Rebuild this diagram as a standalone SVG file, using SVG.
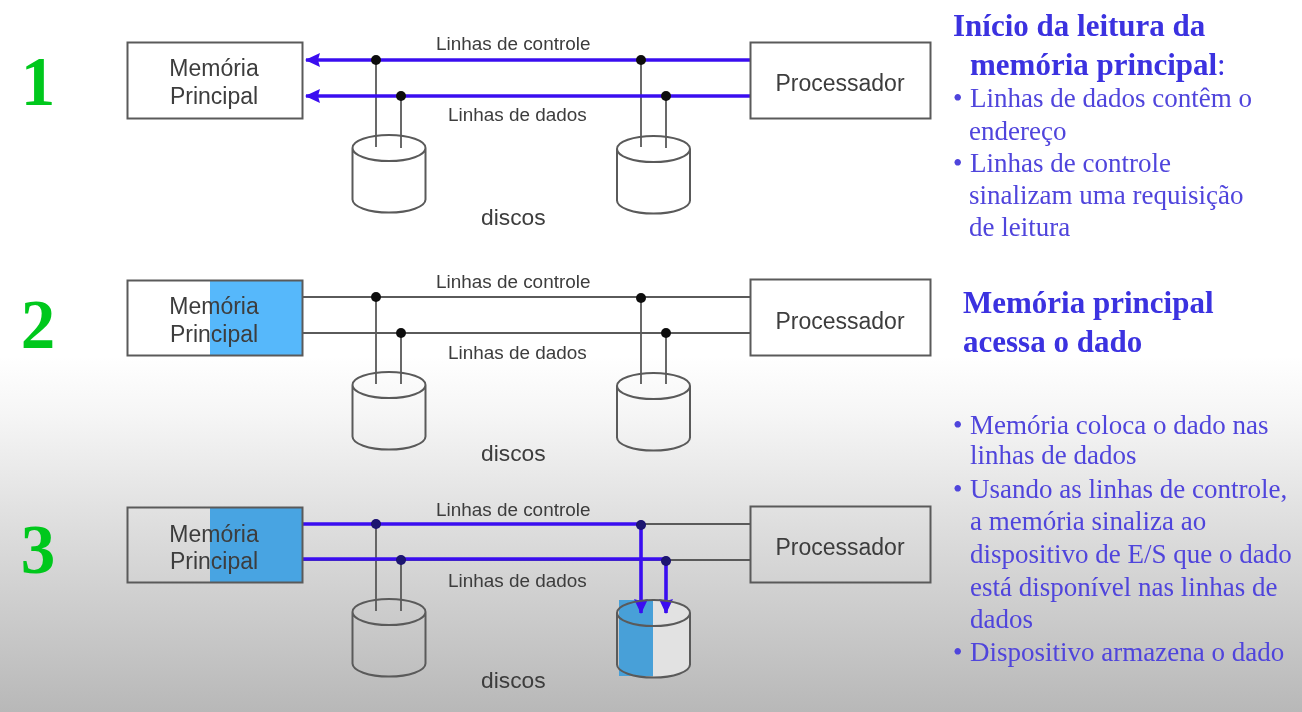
<svg xmlns="http://www.w3.org/2000/svg" width="1302" height="712" viewBox="0 0 1302 712">
<style>
.box{fill:none;stroke:#5a5a5a;stroke-width:2}
.lbl{font-family:"Liberation Sans",Arial,sans-serif;fill:#3c3c3c;filter:url(#b)}
.l{font-size:18.900px}.m{font-size:23px;text-anchor:middle}.d{font-size:22.800px}
.num{font-family:"Liberation Serif",serif;font-weight:bold;font-size:69px;fill:#00c81e;text-anchor:middle;filter:url(#b)}
.t{font-family:"Liberation Serif",serif;fill:#5044dc;font-size:27px;filter:url(#b2)}
.h{font-family:"Liberation Serif",serif;fill:#3a30e0;font-size:31px;font-weight:bold;filter:url(#b)}
.k{fill:none;stroke:#5a5a5a;stroke-width:1.800}
.bl{fill:none;stroke:#3a10f0;stroke-width:3.600}
.cyl{fill:none;stroke:#5a5a5a;stroke-width:2}
.dot{fill:#111}
</style>
<defs>
<filter id="b" x="-5%" y="-5%" width="110%" height="110%"><feGaussianBlur stdDeviation="0.5"/></filter>
<filter id="b2" x="-5%" y="-5%" width="110%" height="110%"><feGaussianBlur stdDeviation="0.7"/></filter>
<filter id="b3" x="-2%" y="-2%" width="104%" height="104%"><feGaussianBlur stdDeviation="0.4"/></filter>
<linearGradient id="bg" x1="0" y1="0" x2="0" y2="1"><stop offset="0.5" stop-color="#fff"/><stop offset="0.58" stop-color="#f6f6f6"/><stop offset="0.75" stop-color="#dcdcdc"/><stop offset="1" stop-color="#b8b8b8"/></linearGradient>
<marker id="a" markerUnits="userSpaceOnUse" markerWidth="16" markerHeight="16" refX="14" refY="8" orient="auto"><path d="M0 1L15 8L0 15L2 8Z" fill="#3a10f0"/></marker>
<path id="c" d="M-36.500 0A36.500 13 0 0 1 36.500 0A36.500 13 0 0 1 -36.500 0ZM-36.500 0V51.500A36.500 13 0 0 0 36.500 51.500V0"/>
</defs>
<rect width="1302" height="712" fill="url(#bg)"/>
<rect x="210" y="281" width="92" height="74" fill="#56b8fb"/>
<rect x="210" y="508" width="92" height="74" fill="#48a4e2"/>
<path d="M653 600A36.500 13 0 0 1 690 613V664.500A36.500 13 0 0 1 653 677.500Z" fill="#e2e2e2"/>
<rect x="619" y="600" width="34" height="76" fill="#48a0d8"/>
<g id="connectors" filter="url(#b3)">
<path class="k" d="M303 297H750M303 333H750M376 297V384M401 333V384M641 297V384M666 333V384"/>
<path class="k" d="M376 60V147M401 96V148M641 60V147M666 96V148"/>
<path class="k" d="M303 524H750M303 560H750M376 524V611M401 560V611"/>
<path class="bl" d="M750 60H306" marker-end="url(#a)"/>
<path class="bl" d="M750 96H306" marker-end="url(#a)"/>
<path class="bl" d="M303 524H641V613" marker-end="url(#a)"/>
<path class="bl" d="M303 559H666V613" marker-end="url(#a)"/>
<g class="dot"><circle cx="376" cy="60" r="5"/><circle cx="641" cy="60" r="5"/><circle cx="401" cy="96" r="5"/><circle cx="666" cy="96" r="5"/><circle cx="376" cy="297" r="5"/><circle cx="641" cy="298" r="5"/><circle cx="401" cy="333" r="5"/><circle cx="666" cy="333" r="5"/></g>
<g fill="#1a1270"><circle cx="376" cy="524" r="5"/><circle cx="641" cy="525" r="5"/><circle cx="401" cy="560" r="5"/><circle cx="666" cy="561" r="5"/></g>
</g>
<g id="n1"><text class="num" x="38" y="105">1</text></g>
<g id="mem1"><rect class="box" x="127.500" y="42.500" width="175" height="76"/><text class="lbl m" x="214" y="76">Memória</text><text class="lbl m" x="214" y="104">Principal</text></g>
<g id="proc1"><rect class="box" x="750.500" y="42.500" width="180" height="76"/><text class="lbl m" x="840" y="91">Processador</text></g>
<g id="disk1a"><use href="#c" class="cyl" x="389" y="148"/></g>
<g id="disk1b"><use href="#c" class="cyl" x="653.500" y="149"/></g>
<g id="labels1"><text class="lbl l" x="436" y="50">Linhas de controle</text><text class="lbl l" x="448" y="121">Linhas de dados</text><text class="lbl d" x="481" y="225">discos</text></g>
<g id="n2"><text class="num" x="38" y="348">2</text></g>
<g id="mem2"><rect class="box" x="127.500" y="280.500" width="175" height="75"/><text class="lbl m" x="214" y="314">Memória</text><text class="lbl m" x="214" y="342">Principal</text></g>
<g id="proc2"><rect class="box" x="750.500" y="279.500" width="180" height="76"/><text class="lbl m" x="840" y="329">Processador</text></g>
<g id="disk2a"><use href="#c" class="cyl" x="389" y="385"/></g>
<g id="disk2b"><use href="#c" class="cyl" x="653.500" y="386"/></g>
<g id="labels2"><text class="lbl l" x="436" y="288">Linhas de controle</text><text class="lbl l" x="448" y="359">Linhas de dados</text><text class="lbl d" x="481" y="461">discos</text></g>
<g id="n3"><text class="num" x="38" y="573">3</text></g>
<g id="mem3"><rect class="box" x="127.500" y="507.500" width="175" height="75"/><text class="lbl m" x="214" y="542">Memória</text><text class="lbl m" x="214" y="569">Principal</text></g>
<g id="proc3"><rect class="box" x="750.500" y="506.500" width="180" height="76"/><text class="lbl m" x="840" y="555">Processador</text></g>
<g id="disk3a"><use href="#c" class="cyl" x="389" y="612"/></g>
<g id="disk3b"><use href="#c" class="cyl" x="653.500" y="613"/></g>
<g id="labels3"><text class="lbl l" x="436" y="516">Linhas de controle</text><text class="lbl l" x="448" y="587">Linhas de dados</text><text class="lbl d" x="481" y="688">discos</text></g>
<g id="text1">
<text class="h" x="953" y="36">Início da leitura da</text>
<text class="h" x="970" y="75">memória principal<tspan font-weight="normal">:</tspan></text>
<text class="t" x="953" y="107">•</text><text class="t" x="970" y="107">Linhas de dados contêm o</text>
<text class="t" x="969" y="140">endereço</text>
<text class="t" x="953" y="172">•</text><text class="t" x="970" y="172">Linhas de controle</text>
<text class="t" x="969" y="204">sinalizam uma requisição</text>
<text class="t" x="969" y="236">de leitura</text>
</g>
<g id="text2">
<text class="h" x="963" y="313">Memória principal</text>
<text class="h" x="963" y="352">acessa o dado</text>
</g>
<g id="text3">
<text class="t" x="953" y="434">•</text><text class="t" x="970" y="434">Memória coloca o dado nas</text>
<text class="t" x="970" y="464">linhas de dados</text>
<text class="t" x="953" y="498">•</text><text class="t" x="970" y="498">Usando as linhas de controle,</text>
<text class="t" x="970" y="530">a memória sinaliza ao</text>
<text class="t" x="970" y="563">dispositivo de E/S que o dado</text>
<text class="t" x="970" y="596">está disponível nas linhas de</text>
<text class="t" x="970" y="628">dados</text>
<text class="t" x="953" y="661">•</text><text class="t" x="970" y="661">Dispositivo armazena o dado</text>
</g>
</svg>
